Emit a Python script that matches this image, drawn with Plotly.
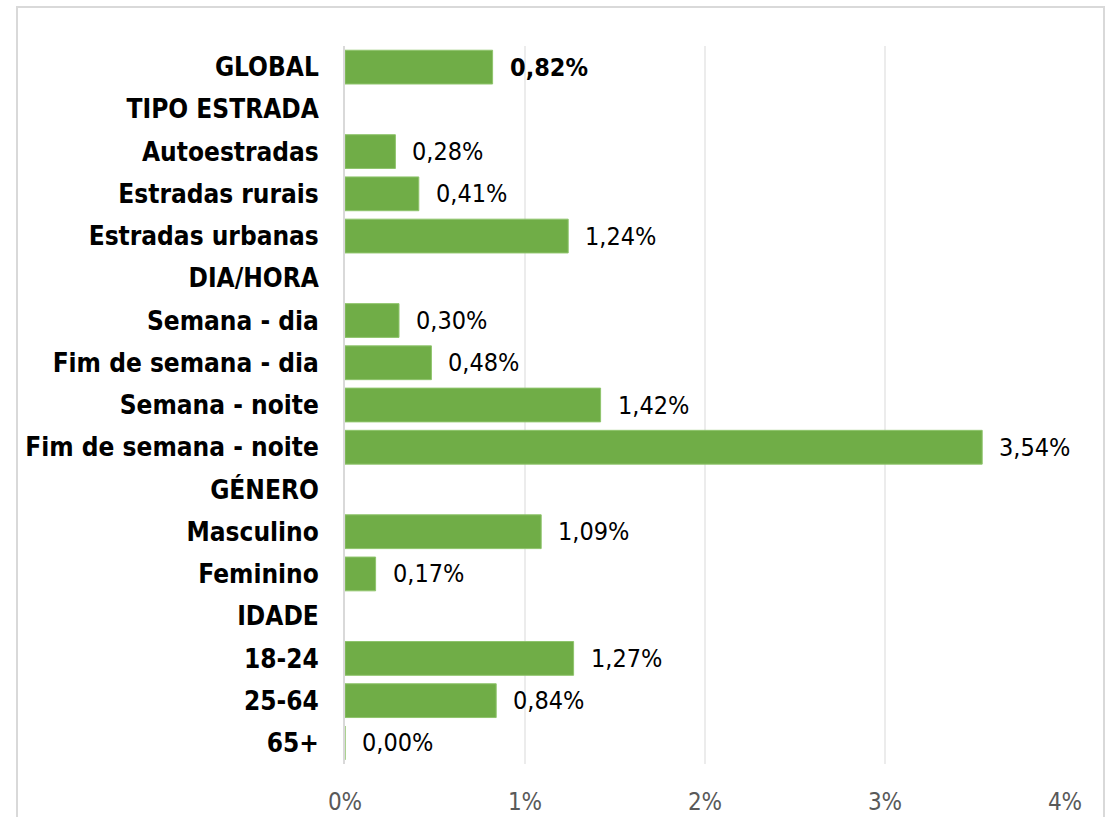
import plotly.graph_objects as go

categories = ["GLOBAL", "TIPO ESTRADA", "Autoestradas", "Estradas rurais", "Estradas urbanas",
              "DIA/HORA", "Semana - dia", "Fim de semana - dia", "Semana - noite",
              "Fim de semana - noite", "GÉNERO", "Masculino", "Feminino", "IDADE",
              "18-24", "25-64", "65+"]
values = [0.82, None, 0.28, 0.41, 1.24, None, 0.30, 0.48, 1.42, 3.54, None, 1.09, 0.17,
          None, 1.27, 0.84, 0.00]
x_ticks = [0, 1, 2, 3, 4]
x_tick_labels = ["0%", "1%", "2%", "3%", "4%"]

FONT = "DejaVu Sans Condensed, DejaVu Sans, sans-serif"
GREEN = "#70AD47"

fig = go.Figure()
fig.add_trace(go.Bar(
    y=categories, x=values, orientation="h",
    marker=dict(color=GREEN, line=dict(color="#8fc46c", width=1)),
    hoverinfo="skip",
))

annotations = []
for c, v in zip(categories, values):
    if v is None:
        continue
    txt = f"{v:.2f}".replace(".", ",") + "%"
    if c == "GLOBAL":
        txt = "<b>" + txt + "</b>"
    annotations.append(dict(x=v, y=c, xref="x", yref="y", text=txt, showarrow=False,
                            xanchor="left", yanchor="middle", xshift=15,
                            font=dict(family=FONT, size=25, color="#000000")))

fig.update_layout(
    width=1113, height=817,
    margin=dict(l=345, r=48, t=46, b=53),
    paper_bgcolor="white", plot_bgcolor="white",
    showlegend=False, bargap=0.2,
    annotations=annotations,
    xaxis=dict(range=[0, 4], tickvals=x_ticks, ticktext=x_tick_labels, automargin=False,
               showgrid=True, gridcolor="#ececec", gridwidth=1.5, zeroline=False,
               showline=False, ticks="", ticklabelstandoff=21,
               tickfont=dict(family=FONT, size=24, color="#595959")),
    yaxis=dict(categoryorder="array", categoryarray=categories, autorange="reversed",
               automargin=False,
               showgrid=False, zeroline=False, showline=True, linecolor="#d9d9d9", linewidth=2,
               ticks="", ticklabelstandoff=19,
               tickfont=dict(family=FONT, size=26, color="#000000", weight="bold")),
    shapes=[dict(type="rect", xref="paper", yref="paper",
                 x0=(17 - 345) / 720, x1=(1104 - 345) / 720,
                 y0=(764 - 830) / 718, y1=(764 - 7) / 718,
                 line=dict(color="#d9d9d9", width=2), fillcolor="rgba(0,0,0,0)", layer="below")],
)

fig.write_html("out.html", config={"displayModeBar": False},
               post_script="document.body.style.margin='0px';")
